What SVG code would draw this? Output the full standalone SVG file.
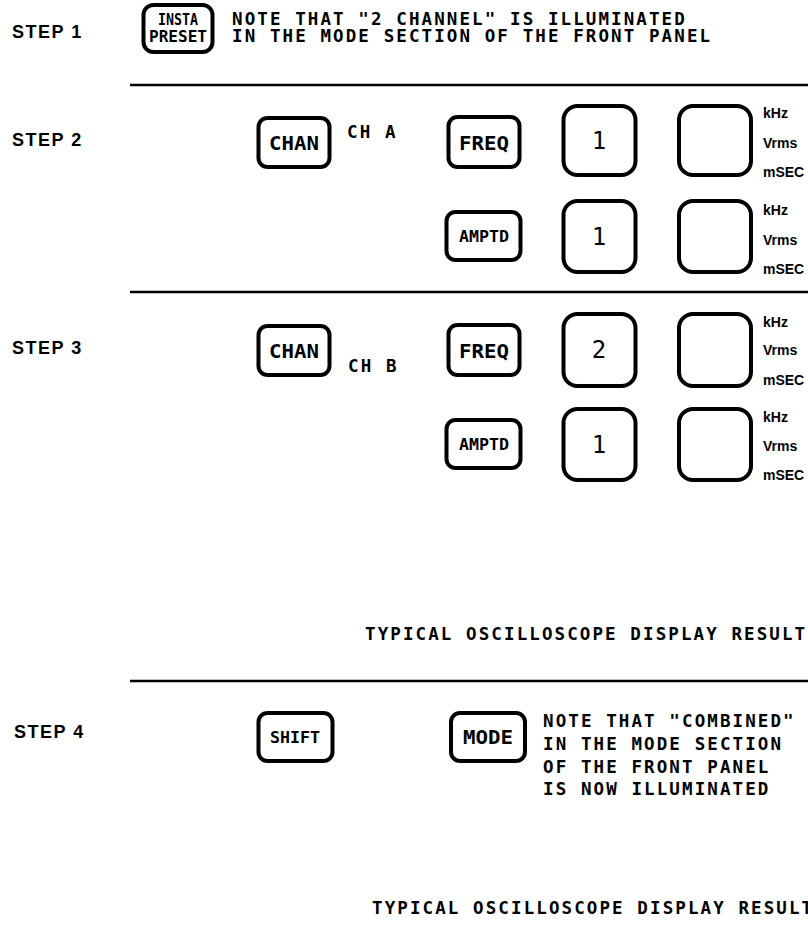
<svg xmlns="http://www.w3.org/2000/svg" width="808" height="931" viewBox="0 0 808 931">
<style>
.bg{fill:#fff}
.step{font-family:"Liberation Sans",Arial,sans-serif;font-weight:bold;font-size:18px;letter-spacing:1.5px;fill:#000}
.note{font-family:"DejaVu Sans Mono",monospace;font-weight:bold;font-size:17.5px;letter-spacing:2.1px;fill:#000}
.btn{fill:#fff;stroke:#000;stroke-width:4}
.box{fill:#fff;stroke:#000;stroke-width:4}
.bl{font-family:"DejaVu Sans Mono",monospace;font-weight:bold;font-size:19px;fill:#000;text-anchor:middle}
.bs{font-family:"DejaVu Sans Mono",monospace;font-weight:bold;font-size:15px;fill:#000;text-anchor:middle}
.dig{font-family:"DejaVu Sans Mono",monospace;font-size:24px;fill:#000;text-anchor:middle}
.unit{font-family:"Liberation Sans",Arial,sans-serif;font-weight:bold;font-size:14px;fill:#000}
.rule{stroke:#000;stroke-width:2.5;fill:none}
</style>
<rect class="bg" x="0" y="0" width="808" height="931"/>

<g id="connectors">
<line class="rule" x1="130" y1="85" x2="808" y2="85"/>
<line class="rule" x1="130" y1="292" x2="808" y2="292"/>
<line class="rule" x1="130" y1="681" x2="808" y2="681"/>
</g>

<g id="step1">
<text class="step" x="12" y="38">STEP 1</text>
<rect class="btn" x="143.5" y="5" width="69" height="47" rx="10"/>
<text class="bs" x="178" y="25" textLength="40" lengthAdjust="spacingAndGlyphs">INSTA</text>
<text class="bs" x="178" y="42" textLength="58" lengthAdjust="spacingAndGlyphs">PRESET</text>
<text class="note" x="232" y="25">NOTE THAT "2 CHANNEL" IS ILLUMINATED</text>
<text class="note" x="232" y="42">IN THE MODE SECTION OF THE FRONT PANEL</text>
</g>

<g id="step2">
<text class="step" x="12" y="146">STEP 2</text>
<rect class="btn" x="258.5" y="118" width="71" height="49" rx="9"/>
<text class="bl" x="294" y="150" textLength="50" lengthAdjust="spacingAndGlyphs">CHAN</text>
<text class="note" x="347" y="138">CH A</text>
<rect class="btn" x="448.5" y="117" width="71" height="50" rx="9"/>
<text class="bl" x="484" y="150" textLength="50" lengthAdjust="spacingAndGlyphs">FREQ</text>
<rect class="box" x="563.5" y="106" width="72" height="69" rx="14"/>
<text class="dig" x="599" y="149">1</text>
<rect class="box" x="679" y="106" width="72" height="69" rx="14"/>
<text class="unit" x="763" y="118">kHz</text>
<text class="unit" x="763" y="148">Vrms</text>
<text class="unit" x="763" y="177">mSEC</text>
<rect class="btn" x="446.5" y="212" width="74" height="48" rx="9"/>
<text class="bs" x="484" y="242" textLength="50" lengthAdjust="spacingAndGlyphs">AMPTD</text>
<rect class="box" x="563.5" y="201" width="72" height="71" rx="14"/>
<text class="dig" x="599" y="245">1</text>
<rect class="box" x="679" y="201" width="72" height="71" rx="14"/>
<text class="unit" x="763" y="215">kHz</text>
<text class="unit" x="763" y="245">Vrms</text>
<text class="unit" x="763" y="274">mSEC</text>
</g>

<g id="step3">
<text class="step" x="12" y="354">STEP 3</text>
<rect class="btn" x="258.5" y="326" width="71" height="49" rx="9"/>
<text class="bl" x="294" y="358" textLength="50" lengthAdjust="spacingAndGlyphs">CHAN</text>
<text class="note" x="348" y="372">CH B</text>
<rect class="btn" x="448.5" y="325" width="71" height="50" rx="9"/>
<text class="bl" x="484" y="358" textLength="50" lengthAdjust="spacingAndGlyphs">FREQ</text>
<rect class="box" x="563.5" y="314" width="72" height="72" rx="14"/>
<text class="dig" x="599" y="358">2</text>
<rect class="box" x="679" y="314" width="72" height="72" rx="14"/>
<text class="unit" x="763" y="327">kHz</text>
<text class="unit" x="763" y="355">Vrms</text>
<text class="unit" x="763" y="385">mSEC</text>
<rect class="btn" x="446.5" y="420" width="74" height="48" rx="9"/>
<text class="bs" x="484" y="450" textLength="50" lengthAdjust="spacingAndGlyphs">AMPTD</text>
<rect class="box" x="563.5" y="409" width="72" height="71" rx="14"/>
<text class="dig" x="599" y="453">1</text>
<rect class="box" x="679" y="409" width="72" height="71" rx="14"/>
<text class="unit" x="763" y="422">kHz</text>
<text class="unit" x="763" y="451">Vrms</text>
<text class="unit" x="763" y="480">mSEC</text>
<text class="note" x="365" y="640">TYPICAL OSCILLOSCOPE DISPLAY RESULT</text>
</g>

<g id="step4">
<text class="step" x="14" y="738">STEP 4</text>
<rect class="btn" x="258.5" y="713" width="74" height="48" rx="9"/>
<text class="bs" x="295" y="743" textLength="50" lengthAdjust="spacingAndGlyphs">SHIFT</text>
<rect class="btn" x="451" y="713" width="74" height="48" rx="9"/>
<text class="bl" x="488" y="744" textLength="50" lengthAdjust="spacingAndGlyphs">MODE</text>
<text class="note" x="543" y="727">NOTE THAT "COMBINED"</text>
<text class="note" x="543" y="750">IN THE MODE SECTION</text>
<text class="note" x="543" y="773">OF THE FRONT PANEL</text>
<text class="note" x="543" y="795">IS NOW ILLUMINATED</text>
<text class="note" x="372" y="914">TYPICAL OSCILLOSCOPE DISPLAY RESULT</text>
</g>
</svg>
